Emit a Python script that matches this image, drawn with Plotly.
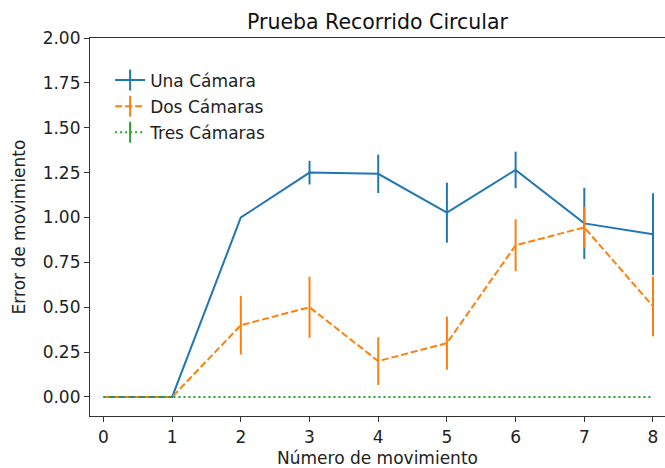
import plotly.graph_objects as go

x_vals = [0, 1, 2, 3, 4, 5, 6, 7, 8]
una_camara = [0, 0, 1.00, 1.25, 1.243, 1.027, 1.265, 0.967, 0.907]
una_err = [0, 0, 0, 0.066, 0.107, 0.167, 0.102, 0.198, 0.228]
dos_camaras = [0, 0, 0.40, 0.50, 0.20, 0.30, 0.845, 0.945, 0.505]
dos_err = [0, 0, 0.163, 0.17, 0.133, 0.148, 0.145, 0.116, 0.167]
tres_camaras = [0, 0, 0, 0, 0, 0, 0, 0, 0]
tres_err = [0, 0, 0, 0, 0, 0, 0, 0, 0]

names = ["Una Cámara", "Dos Cámaras", "Tres Cámaras"]
colors = ["#1f77b4", "#ff7f0e", "#2ca02c"]
dashes = ["solid", "7px,3px", "2px,3px"]
series = [una_camara, dos_camaras, tres_camaras]
errors = [una_err, dos_err, tres_err]

fig = go.Figure()
for name, c, d, ys, es in zip(names, colors, dashes, series, errors):
    fig.add_trace(go.Scatter(
        x=x_vals, y=ys, mode="lines", showlegend=False,
        line=dict(color=c, width=2, dash=d),
        error_y=dict(type="data", array=es, visible=True, color=c, thickness=2, width=0),
    ))
for name, c, d in zip(names, colors, dashes):
    fig.add_trace(go.Scatter(
        x=[None], y=[None], mode="lines+markers", name=name, legendgroup=name,
        line=dict(color=c, width=2, dash=d),
        marker=dict(symbol="line-ns", size=15, color=c, line=dict(width=2, color=c)),
    ))

font = "DejaVu Sans"
fig.update_layout(
    width=665, height=468,
    margin=dict(l=89.5, r=0, t=38.3, b=52.3),
    plot_bgcolor="white", paper_bgcolor="white",
    font=dict(family=font, size=17, color="#222"),
    title=dict(text="Prueba Recorrido Circular", x=0.5, xref="paper", xanchor="center",
               y=1 - 22 / 468, yanchor="middle", font=dict(size=20.5, color="#111")),
    legend=dict(x=0.035, y=0.935, xanchor="left", yanchor="top", bgcolor="rgba(255,255,255,0)",
                font=dict(size=17, color="#222"), tracegroupgap=1),
    xaxis=dict(range=[-0.196, 8.175], tickvals=x_vals, ticktext=[str(v) for v in x_vals],
               showgrid=False, zeroline=False, showline=True, linecolor="#333", linewidth=1.2,
               mirror=True, ticks="outside", ticklen=5, tickcolor="#333",
               title=dict(text="Número de movimiento", standoff=9, font=dict(size=17))),
    yaxis=dict(range=[-0.106, 2.0], tickvals=[0, 0.25, 0.5, 0.75, 1.0, 1.25, 1.5, 1.75, 2.0],
               ticktext=["0.00", "0.25", "0.50", "0.75", "1.00", "1.25", "1.50", "1.75", "2.00"],
               showgrid=False, zeroline=False, showline=True, linecolor="#333", linewidth=1.2,
               mirror=False, ticks="outside", ticklen=5, tickcolor="#333",
               title=dict(text="Error de movimiento", standoff=12, font=dict(size=17))),
)
fig.write_html("out.html")
